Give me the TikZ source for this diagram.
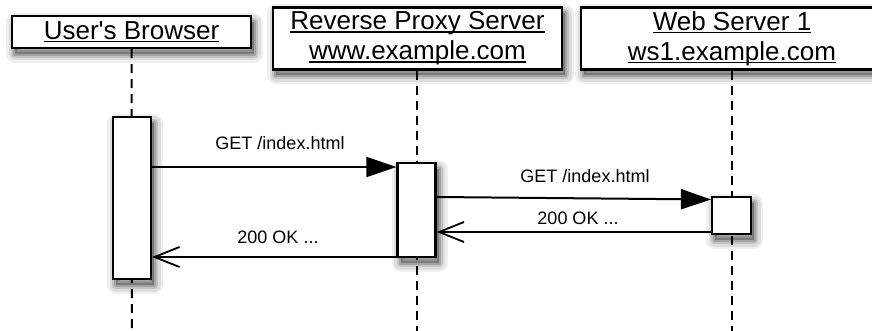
\documentclass[tikz,border=0pt]{standalone}
\usepackage{fontspec}
\setmainfont{Liberation Sans}
\usetikzlibrary{arrows.meta,backgrounds}
\newcommand\myul[1]{\setbox0\hbox{#1}\rlap{\rule[-2.8pt]{\wd0}{1.2pt}}\box0}
\tikzset{
  softshadow/.style={
    preaction={draw=black, opacity=0.06, line width=18pt, line join=round, transform canvas={shift={(3pt,-6pt)}}},
    preaction={draw=black, opacity=0.08, line width=13pt, line join=round, transform canvas={shift={(3pt,-6pt)}}},
    preaction={draw=black, opacity=0.12, line width=8pt, line join=round, transform canvas={shift={(3pt,-6pt)}}},
    preaction={draw=black, opacity=0.16, line width=4pt, line join=round, transform canvas={shift={(3pt,-6pt)}}},
    preaction={fill=black, opacity=0.25, transform canvas={shift={(3pt,-6pt)}}}},
  objbox/.style={draw=black, line width=2.2pt, fill=white, inner sep=0pt, softshadow,
    font=\fontsize{26}{30}\selectfont, align=center},
  actbar/.style={draw=black, line width=2.2pt, fill=white, inner sep=0pt, minimum width=38pt, softshadow},
  lifeline/.style={line width=2pt, dash pattern=on 9pt off 6pt},
  syncmsg/.style={line width=2pt, -{Triangle[length=30pt,width=20pt]}},
  retmsg/.style={line width=2pt, -{Straight Barb[length=25pt,width=20pt,line width=1.8pt]}},
  lbl/.style={font=\fontsize{18}{20}\selectfont, inner sep=0pt}
}
\begin{document}
\begin{tikzpicture}[x=1pt,y=-1pt]
\useasboundingbox (0,0) rectangle (872,331);
\clip (0,0) rectangle (872,331);
% header boxes
\node[objbox, minimum width=239pt, minimum height=32pt] (ub) at (131.5,32) {\myul{User\textquotesingle s Browser}};
\node[objbox, minimum width=289pt, minimum height=62pt] (rp) at (417.5,38.5) {\myul{Reverse Proxy Server}\\\myul{www.example.com}};
\node[objbox, minimum width=302pt, minimum height=62pt] (ws) at (732,38.5) {\myul{Web Server 1}\\\myul{ws1.example.com}};
% bottom ends of lifelines
\coordinate (e1) at (132,331);
\coordinate (e2) at (417,331);
\coordinate (e3) at (732,331);
% lifelines
\begin{pgfonlayer}{background}
\draw[lifeline] (ub.south) -- (e1);
\draw[lifeline] (rp.south -| e2) -- (e2);
\draw[lifeline] (ws.south) -- (e3);
\end{pgfonlayer}
% activation bars
\node[actbar, minimum height=162pt] (b1) at (132,198) {};
\node[actbar, minimum height=94pt] (b2) at (416.5,210) {};
\node[actbar, minimum height=37pt, minimum width=39pt] (b3) at (731.5,215.5) {};
% message levels
\coordinate (y1) at (0,167);
\coordinate (y2a) at (0,197);
\coordinate (y2b) at (0,199.5);
\coordinate (y3) at (0,232);
\coordinate (y4) at (0,257);
\draw[syncmsg] (b1.east |- y1) -- (b2.west |- y1);
\draw[syncmsg] (b2.east |- y2a) -- (b3.west |- y2b);
\draw[retmsg] (b3.west |- y3) -- (b2.east |- y3);
\draw[retmsg] (b2.west |- y4) -- (b1.east |- y4);
% labels
\node[lbl] (l1) at (280,143) {GET /index.html};
\node[lbl] (l2) at (585,176) {GET /index.html};
\node[lbl] (l3) at (278,237) {200 OK ...};
\node[lbl] (l4) at (578,218) {200 OK ...};
\end{tikzpicture}
\end{document}
